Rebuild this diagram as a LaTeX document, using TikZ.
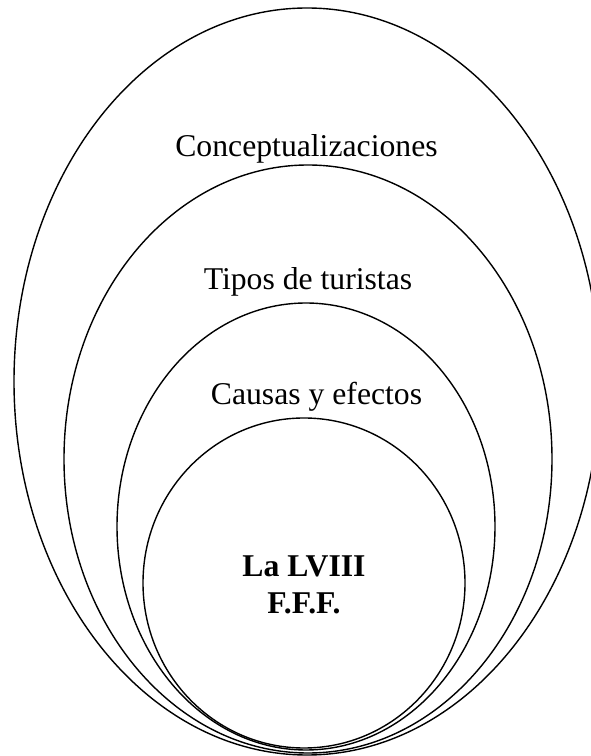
\documentclass[tikz,border=0pt]{standalone}
\usepackage{fontspec}
\setmainfont{Liberation Serif}
\begin{document}
\begin{tikzpicture}[x=1pt,y=1pt,
  ring/.style={draw=black,line width=1.4pt},
  lbl/.style={anchor=base,inner sep=0pt,font=\fontsize{31.7}{37}\selectfont},
  corelbl/.style={lbl,font=\fontsize{31.7}{37}\selectfont\bfseries}]
\useasboundingbox (0,0) rectangle (591,756);
\clip (0,0) rectangle (591,756);
% ellipses (image y measured from top; tikz y = 756 - image y)
\draw[ring] (307,374.5) ellipse [x radius=293, y radius=373.5];
\draw[ring] (308,297) ellipse [x radius=244, y radius=294];
\draw[ring] (306,229.5) ellipse [x radius=189, y radius=223.5];
\draw[ring] (304,173) ellipse [x radius=161, y radius=165];
% labels
\node[lbl] (c1) at (306.5,599) {Conceptualizaciones};
\node[lbl] (c2) at (308,466) {Tipos de turistas};
\node[lbl] (c3) at (316.5,351) {Causas y efectos};
\node[corelbl] (c4) at (304,179) {La LVIII};
\node[corelbl] (c5) at (304,142) {F.F.F.};
\end{tikzpicture}
\end{document}
